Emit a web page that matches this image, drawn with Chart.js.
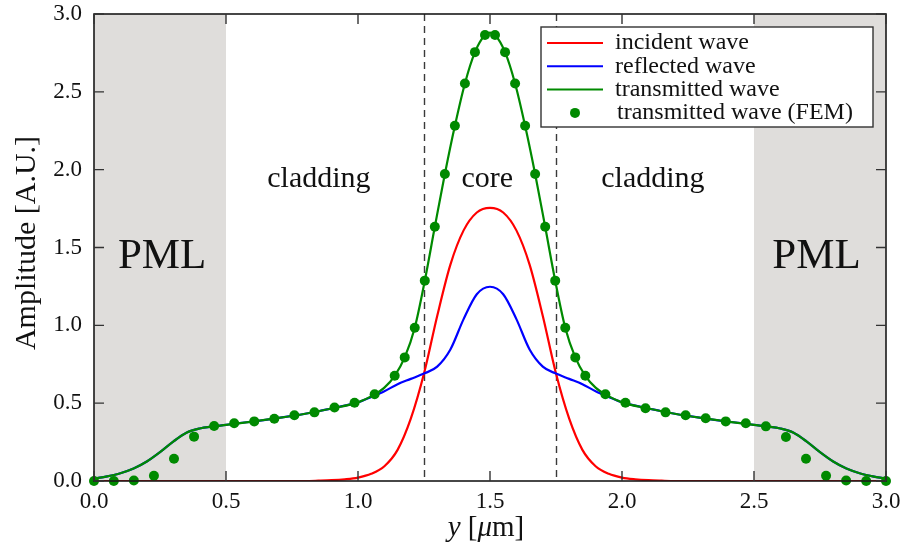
<!DOCTYPE html>
<html>
<head>
<meta charset="utf-8">
<script src="https://cdn.jsdelivr.net/npm/chart.js@4.4.1/dist/chart.umd.min.js"></script>
<style>
  html, body { margin: 0; padding: 0; background: #ffffff; }
  canvas { display: block; }
</style>
</head>
<body>
<canvas id="c" width="909" height="551"></canvas>
<script>
// ---------------- data ----------------
const seriesLabels = ['incident wave', 'reflected wave', 'transmitted wave', 'transmitted wave (FEM)'];

// incident & reflected waves sampled every 0.05 µm from 0 to 3
const waveX = [0.00,0.05,0.10,0.15,0.20,0.25,0.30,0.35,0.40,0.45,0.50,0.55,0.60,0.65,0.70,0.75,0.80,0.85,0.90,0.95,
               1.00,1.05,1.10,1.15,1.20,1.25,1.30,1.35,1.40,1.45,1.50,1.55,1.60,1.65,1.70,1.75,1.80,1.85,1.90,1.95,
               2.00,2.05,2.10,2.15,2.20,2.25,2.30,2.35,2.40,2.45,2.50,2.55,2.60,2.65,2.70,2.75,2.80,2.85,2.90,2.95,3.00];
const incidentY = [0,0,0,0,0,0,0,0,0,0,0,0,0,0,0,0,0,0.002,0.005,0.011,
                   0.022,0.046,0.095,0.20,0.40,0.69,1.06,1.39,1.61,1.725,1.755,1.725,1.61,1.39,1.06,0.69,0.40,0.20,0.095,0.046,
                   0.022,0.011,0.005,0.002,0,0,0,0,0,0,0,0,0,0,0,0,0,0,0,0,0];
const reflectedY = [0.015,0.03,0.05,0.08,0.125,0.185,0.253,0.31,0.337,0.35,0.36,0.372,0.382,0.393,0.405,0.418,0.432,0.448,0.466,0.484,
                    0.505,0.54,0.577,0.622,0.656,0.69,0.735,0.845,1.04,1.20,1.248,1.20,1.04,0.845,0.735,0.69,0.656,0.622,0.577,0.54,
                    0.505,0.484,0.466,0.448,0.432,0.418,0.405,0.393,0.382,0.372,0.36,0.35,0.337,0.31,0.253,0.185,0.125,0.08,0.05,0.03,0.015];

// transmitted wave (analytic curve)
const transX = [0.00,0.05,0.10,0.15,0.20,0.25,0.30,0.35,0.40,0.45,0.50,0.60,0.70,0.80,0.90,1.00,1.06,1.10,
                1.139,1.177,1.215,1.253,1.291,1.329,1.367,1.405,1.443,1.481,1.50,1.519,1.557,1.595,1.633,1.671,1.709,1.747,1.785,1.823,1.861,
                1.90,1.94,2.00,2.10,2.20,2.30,2.40,2.50,2.55,2.60,2.65,2.70,2.75,2.80,2.85,2.90,2.95,3.00];
const transY = [0.015,0.03,0.05,0.08,0.125,0.185,0.253,0.31,0.337,0.35,0.36,0.382,0.405,0.432,0.466,0.505,0.553,0.60,
                0.676,0.794,0.985,1.287,1.633,1.972,2.282,2.554,2.755,2.865,2.88,2.865,2.755,2.554,2.282,1.972,1.633,1.287,0.985,0.794,0.676,
                0.60,0.553,0.505,0.466,0.432,0.405,0.382,0.36,0.35,0.337,0.31,0.253,0.185,0.125,0.08,0.05,0.03,0.015];

// transmitted wave, FEM nodes
const femX = [0.000,0.075,0.151,0.227,0.303,0.379,0.455,0.531,0.607,0.683,0.759,0.835,0.911,0.987,1.063,1.139,
              1.177,1.215,1.253,1.291,1.329,1.367,1.405,1.443,1.481,1.519,1.557,1.595,1.633,1.671,1.709,1.747,1.785,1.823,
              1.861,1.937,2.013,2.089,2.165,2.241,2.317,2.393,2.469,2.545,2.621,2.697,2.773,2.849,2.925,3.000];
const femY = [0,0,0.003,0.034,0.143,0.285,0.353,0.371,0.383,0.400,0.422,0.441,0.472,0.503,0.557,0.676,
              0.794,0.985,1.287,1.633,1.972,2.282,2.554,2.755,2.865,2.865,2.755,2.554,2.282,1.972,1.633,1.287,0.985,0.794,
              0.676,0.557,0.503,0.467,0.441,0.422,0.403,0.383,0.371,0.351,0.283,0.143,0.034,0.003,0,0];

const tickValues = [0.0, 0.5, 1.0, 1.5, 2.0, 2.5, 3.0];
const pmlRegions = [[0.0, 0.5], [2.5, 3.0]];
const coreEdges = [1.25, 1.75];
const regionNames = ['PML', 'cladding', 'core', 'cladding', 'PML'];

// ---------------- styling / layout ----------------
const SERIF = '"Liberation Serif", "DejaVu Serif", serif';
const colors = { incident: '#ff0000', reflected: '#0000ff', transmitted: '#008a00', fem: '#008a00' };
const regionLabelPos = [ // [x value, baseline y value, font px]
  [0.258, 1.368, 43], [0.852, 1.89, 30], [1.49, 1.89, 30], [2.117, 1.89, 30], [2.737, 1.368, 43]
];

const zip = (xs, ys) => xs.map((x, i) => ({ x: x, y: ys[i] }));

const decorPlugin = {
  id: 'decor',
  beforeDatasetsDraw(chart) {
    const { ctx, chartArea: a, scales: { x, y } } = chart;
    ctx.save();
    // PML shading
    ctx.fillStyle = '#dfdddb';
    pmlRegions.forEach(([x0, x1]) => {
      const p0 = x.getPixelForValue(x0), p1 = x.getPixelForValue(x1);
      ctx.fillRect(p0, a.top, p1 - p0, a.bottom - a.top);
    });
    // core edges (dashed)
    ctx.strokeStyle = '#3a3a3a';
    ctx.lineWidth = 1.4;
    ctx.setLineDash([7, 5]);
    coreEdges.forEach(v => {
      const px = Math.round(x.getPixelForValue(v)) + 0.5;
      ctx.beginPath(); ctx.moveTo(px, a.top); ctx.lineTo(px, a.bottom); ctx.stroke();
    });
    ctx.setLineDash([]);
    // region labels
    ctx.fillStyle = '#111';
    ctx.textAlign = 'center';
    ctx.textBaseline = 'alphabetic';
    regionNames.forEach((t, i) => {
      const [vx, vy, fs] = regionLabelPos[i];
      ctx.font = fs + 'px ' + SERIF;
      ctx.fillText(t, x.getPixelForValue(vx), y.getPixelForValue(vy));
    });
    ctx.restore();
  },
  afterDraw(chart) {
    const { ctx, chartArea: a, scales: { x, y } } = chart;
    ctx.save();
    // frame
    ctx.strokeStyle = '#1a1a1a';
    ctx.lineWidth = 1.6;
    ctx.strokeRect(a.left, a.top, a.right - a.left, a.bottom - a.top);
    // inward ticks on all sides
    ctx.strokeStyle = '#333';
    ctx.lineWidth = 1.4;
    const L = 10;
    tickValues.forEach(v => {
      const px = x.getPixelForValue(v);
      ctx.beginPath();
      ctx.moveTo(px, a.bottom); ctx.lineTo(px, a.bottom - L);
      ctx.moveTo(px, a.top); ctx.lineTo(px, a.top + L);
      const py = y.getPixelForValue(v);
      ctx.moveTo(a.left, py); ctx.lineTo(a.left + L, py);
      ctx.moveTo(a.right, py); ctx.lineTo(a.right - L, py);
      ctx.stroke();
    });
    // axis titles
    ctx.fillStyle = '#111';
    ctx.textBaseline = 'middle';
    ctx.textAlign = 'center';
    ctx.save();
    ctx.translate(27, 243);
    ctx.rotate(-Math.PI / 2);
    ctx.font = '30px ' + SERIF;
    ctx.fillText('Amplitude [A.U.]', 0, 0);
    ctx.restore();
    // x title with italic symbols
    const parts = [['y', true], [' [', false], ['μ', true], ['m]', false]];
    const fnt = it => (it ? 'italic ' : '') + '29px ' + SERIF;
    let w = 0;
    parts.forEach(([t, it]) => { ctx.font = fnt(it); w += ctx.measureText(t).width; });
    let cx = (a.left + a.right) / 2 - 4 - w / 2;
    ctx.textAlign = 'left';
    parts.forEach(([t, it]) => { ctx.font = fnt(it); ctx.fillText(t, cx, 528); cx += ctx.measureText(t).width; });
    // legend box
    const bx = a.right - 345, by = a.top + 13, bw = 332, bh = 100;
    ctx.fillStyle = '#ffffff';
    ctx.fillRect(bx, by, bw, bh);
    ctx.strokeStyle = '#333';
    ctx.lineWidth = 1.4;
    ctx.strokeRect(bx, by, bw, bh);
    ctx.font = '24px ' + SERIF;
    ctx.textBaseline = 'middle';
    ctx.textAlign = 'left';
    const ds = chart.data.datasets;
    const legendOrder = [3, 2, 1, 0]; // dataset indices: incident, reflected, transmitted, fem
    legendOrder.forEach((di, row) => {
      const d = ds[di];
      const ry = by + 16 + row * 23.3;
      if (d.showLine === false) {
        ctx.fillStyle = d.pointBackgroundColor;
        ctx.beginPath(); ctx.arc(bx + 34, ry, 5, 0, Math.PI * 2); ctx.fill();
        ctx.fillStyle = '#111';
        ctx.fillText(d.label, bx + 76, ry);
      } else {
        ctx.strokeStyle = d.borderColor;
        ctx.lineWidth = 2;
        ctx.beginPath(); ctx.moveTo(bx + 6, ry); ctx.lineTo(bx + 62, ry); ctx.stroke();
        ctx.fillStyle = '#111';
        ctx.fillText(d.label, bx + 74, ry);
      }
    });
    ctx.restore();
  }
};

const lineDefaults = { pointRadius: 0, borderWidth: 2.2, fill: false, cubicInterpolationMode: 'monotone' };

new Chart(document.getElementById('c'), {
  type: 'line',
  data: {
    datasets: [
      { label: seriesLabels[3], data: zip(femX, femY), showLine: false, pointRadius: 5, pointBorderWidth: 0,
        pointBackgroundColor: colors.fem, pointBorderColor: colors.fem, clip: false, order: 0 },
      Object.assign({ label: seriesLabels[2], data: zip(transX, transY), borderColor: colors.transmitted, order: 1 }, lineDefaults),
      Object.assign({ label: seriesLabels[1], data: zip(waveX, reflectedY), borderColor: colors.reflected, order: 2 }, lineDefaults),
      Object.assign({ label: seriesLabels[0], data: zip(waveX, incidentY), borderColor: colors.incident, order: 3 }, lineDefaults)
    ]
  },
  options: {
    responsive: false,
    animation: false,
    devicePixelRatio: 1,
    layout: { padding: { top: 14, right: 23, left: 0, bottom: 0 } },
    plugins: { legend: { display: false }, tooltip: { enabled: false } },
    scales: {
      x: {
        type: 'linear', min: 0, max: 3,
        afterBuildTicks: s => { s.ticks = tickValues.map(v => ({ value: v })); },
        afterFit: s => { s.height = 70; s.paddingLeft = 0; s.paddingRight = 0; },
        grid: { display: false, drawTicks: false },
        border: { display: false },
        ticks: { padding: 7, color: '#111', font: { family: SERIF, size: 23 }, maxRotation: 0,
                 callback: v => Number(v).toFixed(1) }
      },
      y: {
        type: 'linear', min: 0, max: 3,
        afterBuildTicks: s => { s.ticks = tickValues.map(v => ({ value: v })); },
        afterFit: s => { s.width = 94; s.paddingTop = 0; s.paddingBottom = 0; },
        grid: { display: false, drawTicks: false },
        border: { display: false },
        ticks: { padding: 12, color: '#111', font: { family: SERIF, size: 23 },
                 callback: v => Number(v).toFixed(1) }
      }
    }
  },
  plugins: [decorPlugin]
});
</script>
</body>
</html>
